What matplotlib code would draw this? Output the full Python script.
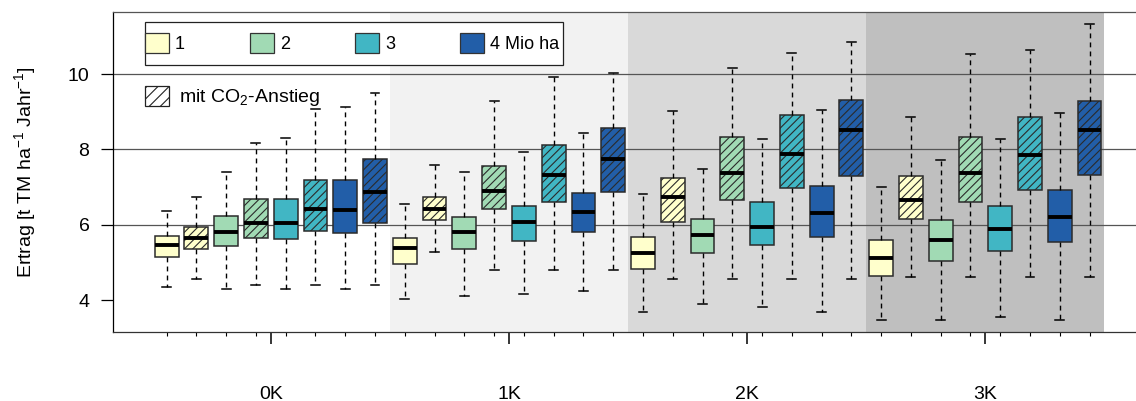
import numpy as np
import matplotlib
matplotlib.use("Agg")
import matplotlib.pyplot as plt
from matplotlib.patches import Patch, Rectangle

plt.rcParams['font.family'] = ['Liberation Sans', 'DejaVu Sans']
plt.rcParams['mathtext.fontset'] = 'custom'
plt.rcParams['mathtext.rm'] = 'Liberation Sans'
plt.rcParams['mathtext.it'] = 'Liberation Sans:italic'
plt.rcParams['hatch.linewidth'] = 0.8

# Szenarien (Erwaermung) und Flaechen
szenarien = ['0K', '1K', '2K', '3K']
flaechen = ['1', '2', '3', '4 Mio ha']
farben = ['#ffffcc', '#a1dab4', '#41b6c4', '#225ea8']
hg_farben = ['white', '#f2f2f2', '#d9d9d9', '#bfbfbf']

# je Szenario 8 Boxen: 1, 1+CO2, 2, 2+CO2, 3, 3+CO2, 4, 4+CO2
whislo = [4.34, 4.55, 4.30, 4.39, 4.30, 4.39, 4.30, 4.39,
          4.04, 5.27, 4.11, 4.80, 4.16, 4.80, 4.23, 4.80,
          3.68, 4.56, 3.89, 4.56, 3.82, 4.56, 3.68, 4.56,
          3.46, 4.62, 3.46, 4.62, 3.54, 4.62, 3.46, 4.62]
q1 = [5.15, 5.36, 5.43, 5.65, 5.61, 5.83, 5.78, 6.04,
      4.96, 6.13, 5.35, 6.41, 5.57, 6.59, 5.80, 6.87,
      4.83, 6.06, 5.24, 6.66, 5.47, 6.97, 5.67, 7.30,
      4.64, 6.16, 5.04, 6.59, 5.29, 6.92, 5.53, 7.32]
med = [5.46, 5.66, 5.80, 6.05, 6.04, 6.42, 6.39, 6.88,
       5.37, 6.43, 5.81, 6.89, 6.08, 7.32, 6.34, 7.74,
       5.24, 6.74, 5.72, 7.37, 5.95, 7.87, 6.30, 8.51,
       5.12, 6.66, 5.59, 7.37, 5.89, 7.85, 6.20, 8.51]
q3 = [5.70, 5.93, 6.23, 6.68, 6.69, 7.20, 7.20, 7.74,
      5.65, 6.73, 6.20, 7.57, 6.50, 8.12, 6.85, 8.56,
      5.68, 7.25, 6.14, 8.33, 6.59, 8.92, 7.03, 9.30,
      5.59, 7.29, 6.12, 8.32, 6.50, 8.86, 6.91, 9.28]
whishi = [6.36, 6.74, 7.39, 8.16, 8.29, 9.07, 9.12, 9.49,
          6.54, 7.58, 7.39, 9.29, 7.94, 9.91, 8.44, 10.04,
          6.81, 9.02, 7.49, 10.17, 8.27, 10.55, 9.04, 10.86,
          6.99, 8.86, 7.71, 10.52, 8.27, 10.64, 8.96, 11.33]

n = len(med)
pos = np.arange(n)
stats = [dict(med=med[i], q1=q1[i], q3=q3[i], whislo=whislo[i],
              whishi=whishi[i], fliers=[]) for i in range(n)]

fig = plt.figure(figsize=(11.36, 4.01), dpi=100)
ax = fig.add_axes([0.0995, 0.172, 0.9005, 0.798])

# Hintergrund je Szenario
for k in range(len(szenarien)):
    ax.axvspan(8 * k - 0.5, 8 * k + 7.5, color=hg_farben[k], lw=0, zorder=0)

for y in [6, 8, 10]:
    ax.axhline(y, color='#555555', lw=0.9, zorder=1)

bp = ax.bxp(stats, positions=pos, widths=0.8, patch_artist=True,
            showfliers=False, capwidths=0.3,
            boxprops=dict(edgecolor='#2b2b2b', lw=1.1),
            medianprops=dict(color='black', lw=2.8, solid_capstyle='butt'),
            whiskerprops=dict(color='black', lw=1.0, linestyle=(0, (3.5, 3))),
            capprops=dict(color='black', lw=1.1),
            zorder=3)
for i, b in enumerate(bp['boxes']):
    b.set_facecolor(farben[(i // 2) % 4])
    if i % 2 == 1:
        b.set_hatch('////')

ax.set_xlim(-1.8, 32.56)
ax.set_ylim(3.151, 11.646)
ax.set_yticks([4, 6, 8, 10])
ax.tick_params(axis='y', labelsize=14, length=9, width=0.9, pad=8)

ax.set_xticks(np.arange(len(szenarien)) * 8 + 3.5)
ax.set_xticklabels(szenarien)
ax.set_xticks(pos, minor=True)
ax.tick_params(axis='x', which='major', labelsize=14, length=8.6, width=1.1, pad=30)
ax.tick_params(axis='x', which='minor', length=3.2, width=0.8)

ax.spines['right'].set_visible(False)
ax.spines['top'].set_color('#555555')
ax.spines['bottom'].set_color('#333333')
for s in ax.spines.values():
    s.set_linewidth(0.9)

ax.set_ylabel('Ertrag [t TM ha$^{-1}$ Jahr$^{-1}$]', fontsize=14)
ax.yaxis.set_label_coords(-0.0733, 0.5)

# Legende Flaechen
handles = [Patch(facecolor=c, edgecolor='#333333', lw=0.9) for c in farben]
leg = ax.legend(handles, flaechen, ncol=4, mode='expand', frameon=False,
                loc='center left', bbox_to_anchor=(0.0313, 0.834, 0.405, 0.136),
                fontsize=13, handlelength=1.33, handleheight=1.33,
                handletextpad=0.33, borderpad=0.0, borderaxespad=0.0)
ax.add_artist(leg)
ax.add_patch(Rectangle((0.0313, 0.834), 0.409, 0.136, transform=ax.transAxes,
                       fill=True, facecolor='white', edgecolor='#222222', lw=0.9, zorder=4))
leg.set_zorder(5)

# Legende CO2
leg2 = ax.legend([Patch(facecolor='white', edgecolor='#222222', hatch='///', lw=0.9)],
                 ['mit CO$_2$-Anstieg'], frameon=False, loc='upper left',
                 bbox_to_anchor=(0.0313, 0.77), fontsize=14, handlelength=1.25,
                 handleheight=1.25, handletextpad=0.5, borderpad=0.0,
                 borderaxespad=0.0)
leg2.set_zorder(5)

fig.savefig('out.png', dpi=100, facecolor='white')
